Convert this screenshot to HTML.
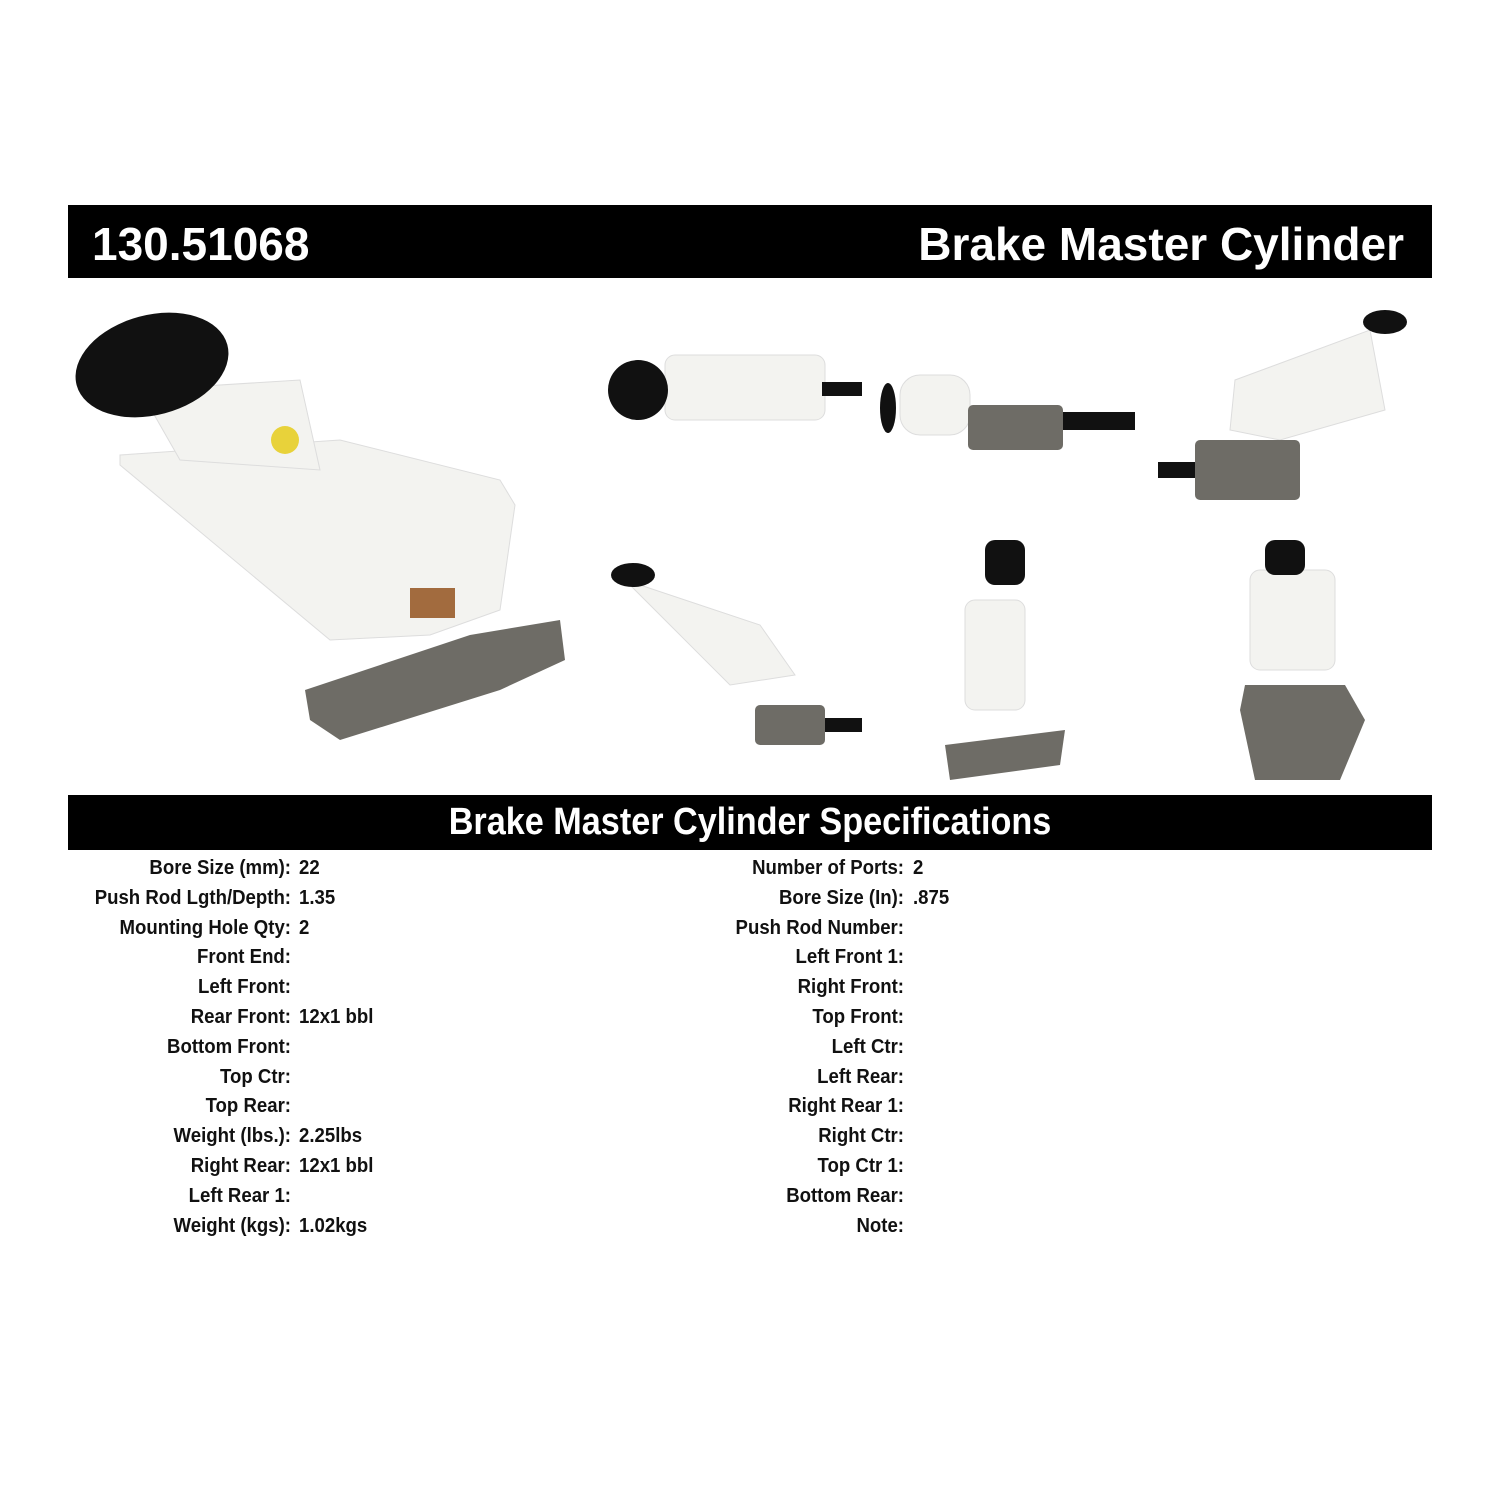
<!DOCTYPE html>
<html><head><style>
body{margin:0;width:1500px;height:1500px;background:#fff;position:relative;font-family:"Liberation Sans",sans-serif;overflow:hidden}
.bar{position:absolute;left:68px;width:1364px;background:#000;color:#fff;font-weight:bold}
.row{position:absolute;font-weight:bold;font-size:20px;color:#111;white-space:nowrap;transform:scaleX(0.93);}
.l{text-align:right;width:300px;transform-origin:right center}
.v{transform-origin:left center}
</style></head><body>
<div class="bar" style="top:205px;height:73px">
<div style="position:absolute;left:24px;top:12px;font-size:46px;transform:scaleX(1.0);transform-origin:left">130.51068</div>
<div style="position:absolute;right:28px;top:12px;font-size:46px;transform:scaleX(1.0);transform-origin:right">Brake Master Cylinder</div>
</div>
<svg style="position:absolute;left:0;top:290px" width="1500" height="505">
<g fill="#f3f3f0" stroke="#ddd">
<path d="M120 165 L340 150 L500 190 L515 215 L500 320 L430 345 L330 350 L120 175Z"/>
<path d="M140 100 L300 90 L320 180 L180 170Z"/>
<rect x="665" y="65" width="160" height="65" rx="10"/>
<rect x="900" y="85" width="70" height="60" rx="20"/>
<path d="M1235 90 L1370 40 L1385 120 L1280 150 L1230 140Z"/>
<path d="M625 290 L760 335 L795 385 L730 395Z"/>
<rect x="965" y="310" width="60" height="110" rx="10"/>
<rect x="1250" y="280" width="85" height="100" rx="10"/>
</g>
<g fill="#111">
<ellipse cx="152" cy="75" rx="78" ry="50" transform="rotate(-15 152 75)"/>
<circle cx="638" cy="100" r="30"/>
<ellipse cx="888" cy="118" rx="8" ry="25"/>
<ellipse cx="1385" cy="32" rx="22" ry="12"/>
<ellipse cx="633" cy="285" rx="22" ry="12"/>
<rect x="985" y="250" width="40" height="45" rx="10"/>
<rect x="1265" y="250" width="40" height="35" rx="10"/>
<rect x="822" y="92" width="40" height="14"/><rect x="1060" y="122" width="75" height="18"/><rect x="1158" y="172" width="40" height="16"/><rect x="820" y="428" width="42" height="14"/>
</g>
<g fill="#6e6c66">
<path d="M305 400 L470 345 L560 330 L565 370 L500 400 L340 450 L310 430Z"/>
<rect x="968" y="115" width="95" height="45" rx="5"/>
<rect x="1195" y="150" width="105" height="60" rx="5"/>
<rect x="755" y="415" width="70" height="40" rx="5"/>
<path d="M945 455 L1065 440 L1060 475 L950 490Z"/>
<path d="M1245 395 L1345 395 L1365 430 L1340 490 L1255 490 L1240 420Z"/>
</g>
<rect x="410" y="298" width="45" height="30" fill="#a26b3e"/>
<circle cx="285" cy="150" r="14" fill="#e8d23a"/>
</svg>
<div class="bar" style="top:795px;height:55px"><div style="text-align:center;font-size:38px;line-height:55px;transform:scaleX(0.9)">Brake Master Cylinder Specifications</div></div>
<div id="s"></div>
<script>
var L=[["Bore Size (mm):","22"],["Push Rod Lgth/Depth:","1.35"],["Mounting Hole Qty:","2"],["Front End:",""],["Left Front:",""],["Rear Front:","12x1 bbl"],["Bottom Front:",""],["Top Ctr:",""],["Top Rear:",""],["Weight (lbs.):","2.25lbs"],["Right Rear:","12x1 bbl"],["Left Rear 1:",""],["Weight (kgs):","1.02kgs"]];
var R=[["Number of Ports:","2"],["Bore Size (In):",".875"],["Push Rod Number:",""],["Left Front 1:",""],["Right Front:",""],["Top Front:",""],["Left Ctr:",""],["Left Rear:",""],["Right Rear 1:",""],["Right Ctr:",""],["Top Ctr 1:",""],["Bottom Rear:",""],["Note:",""]];
var h="";
for(var i=0;i<13;i++){var y=857+i*29.8;
h+='<div class="row l" style="left:-9px;top:'+y+'px">'+L[i][0]+'</div><div class="row v" style="left:299px;top:'+y+'px">'+L[i][1]+'</div>';
h+='<div class="row l" style="left:604px;top:'+y+'px">'+R[i][0]+'</div><div class="row v" style="left:913px;top:'+y+'px">'+R[i][1]+'</div>';}
document.getElementById("s").innerHTML=h;
</script>
</body></html>
